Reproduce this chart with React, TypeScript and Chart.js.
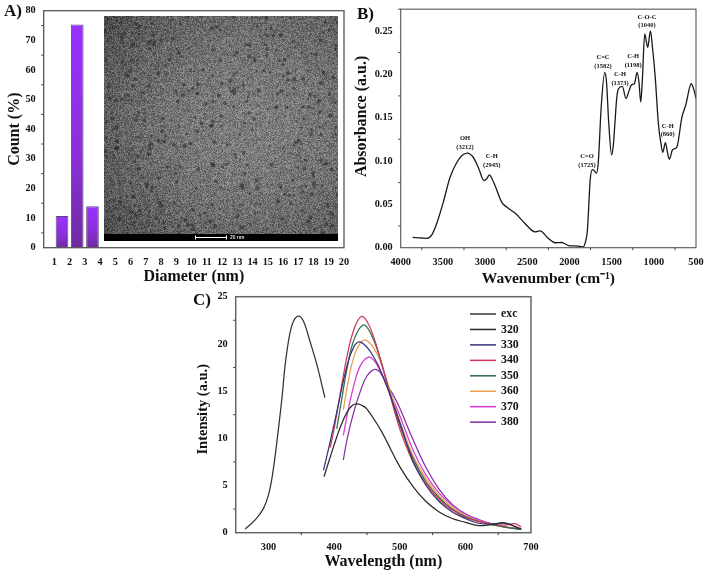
import React, { useEffect, useRef } from "react";
import { Chart, registerables } from "chart.js";
Chart.register(...registerables);

const SERIF = '"Liberation Serif", "Times New Roman", serif';

// ---- Panel A ----
const diameterCenters = [1.5, 2.5, 3.5];
const diameterCounts = [10.7, 75.3, 14];
const diameterTicks = [1, 2, 3, 4, 5, 6, 7, 8, 9, 10, 11, 12, 13, 14, 15, 16, 17, 18, 19, 20];
const countTicks = [0, 10, 20, 30, 40, 50, 60, 70, 80];
const countMinor = [5, 15, 25, 35, 45, 55, 65, 75];

// ---- Panel B ----
const wavenumbers = [3858, 3750, 3692, 3633, 3573, 3495, 3416, 3337, 3277, 3210, 3139, 3080, 3012, 2980, 2949, 2915, 2882, 2803, 2744, 2645, 2527, 2408, 2349, 2250, 2171, 2092, 2012, 1940, 1875, 1835, 1815, 1800, 1787, 1770, 1755, 1728, 1700, 1680, 1657, 1625, 1582, 1560, 1535, 1500, 1480, 1460, 1440, 1420, 1373, 1330, 1290, 1262, 1230, 1198, 1175, 1155, 1135, 1108, 1072, 1040, 1015, 985, 945, 915, 895, 862, 835, 815, 778, 727, 668, 620, 557, 525, 500];
const absorbance = [0.0119, 0.0112, 0.0107, 0.0145, 0.0278, 0.0525, 0.081, 0.098, 0.106, 0.109, 0.104, 0.0925, 0.0773, 0.0795, 0.084, 0.079, 0.0716, 0.0525, 0.0468, 0.04, 0.028, 0.0183, 0.0194, 0.0107, 0.0057, 0.006, 0.0025, 0.002, 0.0015, 0.001, 0.005, 0.011, 0.02, 0.05, 0.077, 0.09, 0.088, 0.086, 0.1, 0.16, 0.202, 0.19, 0.145, 0.107, 0.118, 0.145, 0.172, 0.183, 0.186, 0.172, 0.182, 0.188, 0.189, 0.202, 0.19, 0.168, 0.195, 0.2465, 0.231, 0.25, 0.23, 0.199, 0.142, 0.12, 0.11, 0.121, 0.108, 0.102, 0.113, 0.116, 0.15, 0.165, 0.189, 0.182, 0.172];
const wavenumberTicks = [4000, 3500, 3000, 2500, 2000, 1500, 1000, 500];
const wavenumberMinor = [3750, 3250, 2750, 2250, 1750, 1250, 750];
const absorbanceTicks = [0, 0.05, 0.1, 0.15, 0.2, 0.25];
const absorbanceMinor = [0.025, 0.075, 0.125, 0.175, 0.225, 0.275];
const peakLabels = [
  { name: "OH", band: "(3212)", wn: 3238, abs: 0.1127 },
  { name: "C-H", band: "(2945)", wn: 2921, abs: 0.0921 },
  { name: "C=O", band: "(1725)", wn: 1792, abs: 0.0921 },
  { name: "C=C", band: "(1582)", wn: 1602, abs: 0.2063 },
  { name: "C-H", band: "(1373)", wn: 1400, abs: 0.1869 },
  { name: "C-H", band: "(1198)", wn: 1245, abs: 0.2074 },
  { name: "C-O-C", band: "(1040)", wn: 1081, abs: 0.2531 },
  { name: "C-H", band: "(860)", wn: 835, abs: 0.1275 },
];

// ---- Panel C ----
const excX = [264.5, 279.7, 292.4, 300, 306, 312.7, 320.4, 325.4, 332, 338, 345.7, 353.3, 363.5, 373.7, 386];
const excY = [0.39, 1.35, 2.58, 4, 6.1, 9.6, 14.2, 17.8, 20.9, 22.4, 22.95, 22.4, 20.2, 17.8, 14.3];
const em320X = [384.6, 400, 410, 420, 428, 434, 442, 450, 470, 480, 500, 520, 540, 560, 580, 600, 620, 640, 660, 685];
const em320Y = [5.93, 9.3, 11.3, 12.8, 13.5, 13.65, 13.5, 13.1, 11, 9.7, 7, 4.9, 3.3, 2.2, 1.5, 1.1, 0.75, 0.85, 1, 0.4];
const em330X = [383.8, 400, 420, 430, 437, 445, 455, 470, 500, 520, 540, 560, 580, 600, 620, 640, 660, 685];
const em330Y = [6.6, 11.5, 17.8, 19.7, 20.2, 20, 19.2, 17.3, 11.7, 7.6, 5, 3.3, 2.2, 1.5, 1, 0.9, 1.05, 0.35];
const em340X = [394, 400, 410, 420, 430, 441, 450, 460, 470, 480, 500, 520, 540, 560, 580, 600, 620, 640, 660, 675, 685];
const em340Y = [9, 11, 15, 18.8, 21.5, 22.9, 22.4, 20.8, 18.5, 16, 11, 7.5, 5.2, 3.5, 2.4, 1.6, 1.2, 0.9, 0.8, 0.95, 0.6];
const em350X = [404, 410, 420, 430, 444, 455, 470, 480, 500, 520, 540, 560, 580, 600, 620, 640, 660, 685];
const em350Y = [11, 13.5, 17.5, 20.4, 22, 21.2, 18.5, 16, 11.4, 7.9, 5.4, 3.7, 2.5, 1.7, 1.2, 0.85, 0.6, 0.35];
const em360X = [414, 420, 430, 440, 448, 460, 470, 480, 500, 520, 540, 560, 580, 600, 620, 640, 660, 685];
const em360Y = [13, 15.5, 18.6, 20.1, 20.4, 19.6, 18.2, 16.2, 11.8, 8.2, 5.7, 3.9, 2.7, 1.8, 1.25, 0.85, 0.6, 0.4];
const em370X = [414, 420, 430, 440, 452, 460, 470, 480, 500, 520, 540, 560, 580, 600, 620, 640, 660, 685];
const em370Y = [10.3, 12.5, 15.6, 17.7, 18.6, 18.3, 17.2, 15.7, 12.4, 8.8, 6.1, 4.2, 2.9, 1.95, 1.35, 0.95, 0.65, 0.4];
const em380X = [414, 420, 430, 440, 450, 462, 470, 480, 490, 500, 520, 540, 560, 580, 600, 620, 640, 660, 685];
const em380Y = [7.7, 10, 12.8, 15, 16.6, 17.3, 17, 15.7, 14.6, 13.2, 9.9, 6.9, 4.6, 3, 2, 1.4, 0.95, 0.6, 0.35];
const wavelengthTicks = [300, 400, 500, 600, 700];
const wavelengthMinor = [350, 450, 550, 650];
const intensityTicks = [0, 5, 10, 15, 20, 25];
const intensityMinor = [2.5, 7.5, 12.5, 17.5, 22.5];

const pairs = (xs: number[], ys: number[]) => xs.map((x, i) => ({ x, y: ys[i] }));
const AXIS = "#444444";
const TEXT = "#111111";

function hash(n: number) {
  const s = Math.sin(n * 127.1 + 311.7) * 43758.5453;
  return s - Math.floor(s);
}

function paintMicrograph(ctx: CanvasRenderingContext2D, x: number, y: number, w: number, h: number) {
  const off = document.createElement("canvas");
  off.width = w;
  off.height = h;
  const o = off.getContext("2d")!;
  const img = o.createImageData(w, h);
  for (let j = 0; j < h; j++) {
    for (let i = 0; i < w; i++) {
      const dx = (i - w * 0.62) / w;
      const dy = (j - h * 0.48) / h;
      const base = 124 - 80 * (dx * dx + dy * dy);
      const v = base + (hash(i * 0.731 + j * 57.3) - 0.5) * 66;
      const k = (j * w + i) * 4;
      img.data[k] = img.data[k + 1] = img.data[k + 2] = v;
      img.data[k + 3] = 255;
    }
  }
  o.putImageData(img, 0, 0);
  o.fillStyle = "rgba(38,38,38,0.55)";
  for (let n = 0; n < 380; n++) {
    const r = 1 + hash(n * 3.3) * 1.1;
    o.beginPath();
    o.arc(hash(n * 1.7) * w, hash(n * 2.9 + 5) * h, r, 0, Math.PI * 2);
    o.fill();
  }
  ctx.save();
  ctx.beginPath();
  ctx.rect(x, y, w, h);
  ctx.clip();
  ctx.filter = "blur(0.65px)";
  ctx.drawImage(off, x, y);
  ctx.filter = "none";
  ctx.fillStyle = "#000000";
  ctx.fillRect(x, y + h - 7, w, 7);
  ctx.strokeStyle = "#ffffff";
  ctx.lineWidth = 1;
  ctx.beginPath();
  ctx.moveTo(x + 91, y + h - 3.5);
  ctx.lineTo(x + 123, y + h - 3.5);
  ctx.moveTo(x + 91.5, y + h - 5.5);
  ctx.lineTo(x + 91.5, y + h - 1.5);
  ctx.moveTo(x + 122.5, y + h - 5.5);
  ctx.lineTo(x + 122.5, y + h - 1.5);
  ctx.stroke();
  ctx.fillStyle = "#dddddd";
  ctx.font = `bold 5px "Liberation Sans", sans-serif`;
  ctx.textAlign = "left";
  ctx.textBaseline = "middle";
  ctx.fillText("20 nm", x + 126, y + h - 3.5);
  ctx.restore();
}

type Geometry = { left: number; right: number; top: number; bottom: number };

function fixedAxes(g: Geometry, w: number, h: number) {
  return {
    layout: { padding: { top: g.top, right: w - g.right, left: 0, bottom: 0 } },
    yFit: (s: any) => { s.width = g.left; },
    xFit: (s: any) => { s.height = h - g.bottom; },
  };
}

function framePlugin(letter: string, lx: number, ly: number, xMinor: number[], yMinor: number[], lw: number, color: string) {
  return {
    id: "frame" + letter,
    afterDraw(chart: any) {
      const { ctx, chartArea: a, scales } = chart;
      ctx.save();
      ctx.strokeStyle = color;
      ctx.lineWidth = lw;
      ctx.strokeRect(a.left, a.top, a.right - a.left, a.bottom - a.top);
      ctx.lineWidth = 1;
      ctx.strokeStyle = AXIS;
      ctx.beginPath();
      yMinor.forEach((v) => {
        const p = scales.y.getPixelForValue(v);
        ctx.moveTo(a.left, p);
        ctx.lineTo(a.left - 2.5, p);
      });
      xMinor.forEach((v) => {
        const p = scales.x.getPixelForValue(v);
        ctx.moveTo(p, a.bottom);
        ctx.lineTo(p, a.bottom + 2.5);
      });
      ctx.stroke();
      ctx.fillStyle = TEXT;
      ctx.font = `bold 17px ${SERIF}`;
      ctx.textAlign = "left";
      ctx.textBaseline = "middle";
      ctx.fillText(letter + ")", lx, ly);
      ctx.restore();
    },
  };
}

function axis(ticksList: number[], min: number, max: number, title: string, titleSize: number, tickSize: number, fit: any, titlePad: any, fmt: (v: number) => string, reverse = false) {
  return {
    type: "linear",
    min,
    max,
    reverse,
    offset: false,
    grid: { display: false, offset: false, drawTicks: true, tickLength: 5, tickColor: AXIS, tickWidth: 1 },
    border: { display: false },
    afterBuildTicks: (s: any) => { s.ticks = ticksList.map((value) => ({ value })); },
    afterFit: fit,
    ticks: {
      autoSkip: false,
      maxRotation: 0,
      padding: 3,
      color: TEXT,
      font: { family: SERIF, weight: "bold", size: tickSize },
      callback: (v: any) => fmt(Number(v)),
    },
    title: {
      display: true,
      text: title,
      color: TEXT,
      padding: titlePad,
      font: { family: SERIF, weight: "bold", size: titleSize },
    },
  };
}

function base(fx: any, extra: any = {}) {
  return {
    responsive: false,
    animation: false,
    maintainAspectRatio: false,
    layout: fx.layout,
    plugins: { legend: { display: false }, tooltip: { enabled: false } },
    ...extra,
  };
}

function PanelA() {
  const ref = useRef<HTMLCanvasElement>(null);
  useEffect(() => {
    const W = 360, H = 290;
    const fx = fixedAxes({ left: 43.7, right: 344, top: 10.7, bottom: 247.7 }, W, H);
    const chart = new Chart(ref.current!, {
      type: "bar",
      data: {
        datasets: [{
          data: pairs(diameterCenters, diameterCounts),
          barPercentage: 0.83,
          categoryPercentage: 1,
          borderWidth: 1,
          borderColor: "#5f4a78",
          backgroundColor: (c: any) => {
            const a = c.chart.chartArea;
            const s = c.chart.scales && c.chart.scales.y;
            if (!a || !s || !c.parsed) return "#8a30e0";
            const g = c.chart.ctx.createLinearGradient(0, s.getPixelForValue(c.parsed.y), 0, a.bottom);
            g.addColorStop(0, "#9a30ff");
            g.addColorStop(0.6, "#8a30d8");
            g.addColorStop(1, "#6e2aa0");
            return g;
          },
        }],
      },
      options: base(fx, {
        scales: {
          x: axis(diameterTicks, 0.3, 20, "Diameter (nm)", 16, 10.3, fx.xFit, { top: 0, bottom: 3.5 }, (v) => String(v)),
          y: axis(countTicks, 0, 80, "Count (%)", 16, 10.3, fx.yFit, { top: 5, bottom: 0 }, (v) => String(v)),
        },
      }),
      plugins: [
        { id: "micrograph", afterDatasetsDraw(ch: any) { paintMicrograph(ch.ctx, 104, 16, 234, 225); } },
        framePlugin("A", 4, 12, [], countMinor, 1.3, "#555555"),
      ],
    } as any);
    return () => chart.destroy();
  }, []);
  return <canvas ref={ref} width={360} height={290} style={{ position: "absolute", left: 0, top: 0 }} />;
}

function PanelB() {
  const ref = useRef<HTMLCanvasElement>(null);
  useEffect(() => {
    const W = 359, H = 290;
    const fx = fixedAxes({ left: 50.7, right: 346, top: 6.7, bottom: 247.7 }, W, H);
    const chart = new Chart(ref.current!, {
      type: "line",
      data: {
        datasets: [{
          data: pairs(wavenumbers, absorbance),
          borderColor: "#1a1a1a",
          borderWidth: 1.3,
          pointRadius: 0,
          cubicInterpolationMode: "monotone",
        }],
      },
      options: base(fx, {
        scales: {
          x: axis(wavenumberTicks, 500, 4000, "Wavenumber (cm\u207B\u00B9)", 15.5, 10.3, fx.xFit, { top: 0, bottom: 1.5 }, (v) => String(v), true),
          y: axis(absorbanceTicks, 0, 0.275, "      Absorbance (a.u.)", 16, 10.3, fx.yFit, { top: 2, bottom: 0 }, (v) => v.toFixed(2)),
        },
      }),
      plugins: [
        {
          id: "peaks",
          afterDatasetsDraw(ch: any) {
            const { ctx, scales } = ch;
            ctx.save();
            ctx.fillStyle = TEXT;
            ctx.font = `bold 6.5px ${SERIF}`;
            ctx.textAlign = "center";
            ctx.textBaseline = "alphabetic";
            peakLabels.forEach((p) => {
              const x = scales.x.getPixelForValue(p.wn);
              const y = scales.y.getPixelForValue(p.abs);
              ctx.fillText(p.band, x, y - 1);
              ctx.fillText(p.name, x, y - 9.5);
            });
            ctx.restore();
          },
        },
        framePlugin("B", 7, 15, wavenumberMinor, absorbanceMinor, 1.1, "#555555"),
      ],
    } as any);
    return () => chart.destroy();
  }, []);
  return <canvas ref={ref} width={359} height={290} style={{ position: "absolute", left: 350, top: 0 }} />;
}

function PanelC() {
  const ref = useRef<HTMLCanvasElement>(null);
  useEffect(() => {
    const W = 370, H = 289;
    const fx = fixedAxes({ left: 45.7, right: 341, top: 11.7, bottom: 247.7 }, W, H);
    const line = (label: string, xs: number[], ys: number[], color: string) => ({
      label,
      data: pairs(xs, ys),
      borderColor: color,
      borderWidth: 1.25,
      pointRadius: 0,
      tension: 0.4,
    });
    const chart = new Chart(ref.current!, {
      type: "line",
      data: {
        datasets: [
          line("exc", excX, excY, "#333333"),
          line("320", em320X, em320Y, "#2b2b2b"),
          line("330", em330X, em330Y, "#34347a"),
          line("340", em340X, em340Y, "#d3365c"),
          line("350", em350X, em350Y, "#2f6b48"),
          line("360", em360X, em360Y, "#e8a050"),
          line("370", em370X, em370Y, "#d838d8"),
          line("380", em380X, em380Y, "#8430a0"),
        ],
      },
      options: base(fx, {
        scales: {
          x: axis(wavelengthTicks, 250, 700, "Wavelength (nm)", 16, 10.3, fx.xFit, { top: 0, bottom: 2.5 }, (v) => String(v)),
          y: axis(intensityTicks, 0, 25, "   Intensity (a.u.)", 14.5, 10.3, fx.yFit, { top: 4.6, bottom: 0 }, (v) => String(v)),
        },
      }),
      plugins: [
        {
          id: "seriesKey",
          afterDraw(ch: any) {
            const { ctx } = ch;
            ctx.save();
            ch.data.datasets.forEach((d: any, i: number) => {
              const y = 29 + i * 15.45;
              ctx.strokeStyle = d.borderColor;
              ctx.lineWidth = 1.5;
              ctx.beginPath();
              ctx.moveTo(280, y);
              ctx.lineTo(306, y);
              ctx.stroke();
              ctx.fillStyle = TEXT;
              ctx.font = `bold 11.8px ${SERIF}`;
              ctx.textAlign = "left";
              ctx.textBaseline = "middle";
              ctx.fillText(d.label, 311, y);
            });
            ctx.restore();
          },
        },
        framePlugin("C", 3, 16, wavelengthMinor, intensityMinor, 1.5, "#666666"),
      ],
    } as any);
    return () => chart.destroy();
  }, []);
  return <canvas ref={ref} width={370} height={289} style={{ position: "absolute", left: 190, top: 285 }} />;
}

export default function App() {
  return (
    <div style={{ position: "absolute", left: 0, top: 0, width: 709, height: 574, background: "#fff", overflow: "hidden", filter: "blur(0.3px)" }}>
      <PanelA />
      <PanelB />
      <PanelC />
    </div>
  );
}
